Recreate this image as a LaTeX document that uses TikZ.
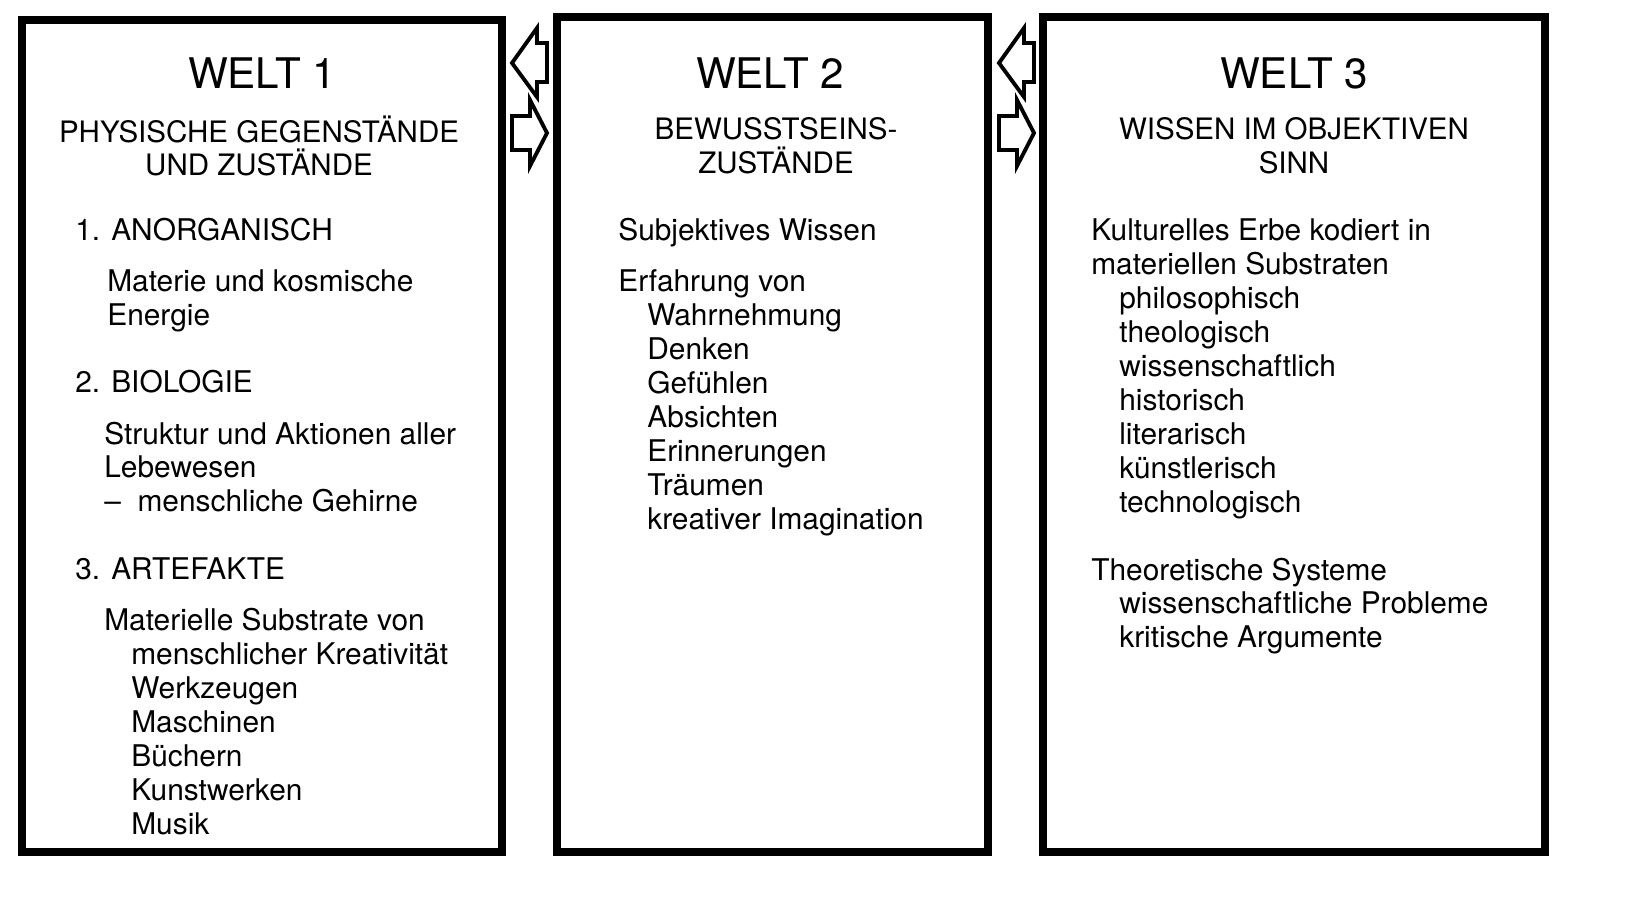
\documentclass[tikz,border=0pt]{standalone}
\usepackage{fontspec}
\setmainfont{TeX Gyre Heros}
\begin{document}
\begin{tikzpicture}[x=0.02cm,y=-0.02cm,
    welt/.style={line width=4.5pt},
    pfeil/.style={line width=2.2pt,line join=miter},
    titel/.style={font=\fontsize{24}{28}\selectfont},
    kopf/.style={font=\fontsize{16.8}{19.2}\selectfont,align=center},
    zeile/.style={anchor=base west,font=\fontsize{17}{19.2}\selectfont,inner sep=0pt,yshift=-9*0.02cm}]
        \useasboundingbox (0,0) rectangle (1633,903);
        % die drei Welten
        \draw[welt] (22,20) rectangle (502,852);
        \draw[welt] (557,17) rectangle (988,852);
        \draw[welt] (1043,17) rectangle (1545,852);
        % Pfeile zwischen den Welten
        \foreach \d in {0,487}{
        \begin{scope}[xshift=\d*0.02cm]
        \draw[pfeil] (512,63) -- (537,28) -- (537,43) -- (547,43) -- (547,82) -- (537,82) -- (537,97) -- cycle;
        \draw[pfeil] (547,133) -- (530,100) -- (530,116) -- (512,116) -- (512,150) -- (530,150) -- (530,166) -- cycle;
        \end{scope}
        }
        % Welt 1
        \node[titel] (t1) at (262,73) {WELT 1};
        \node[kopf] (k1) at (259,146) {PHYSISCHE GEGENSTÄNDE\\UND ZUSTÄNDE};
        \node[zeile] (a1) at (75,231) {1. ANORGANISCH};
        \node[zeile] (a2) at (107,282) {Materie und kosmische};
        \node[zeile] (a3) at (107,316) {Energie};
        \node[zeile] (b1) at (75,383) {2. BIOLOGIE};
        \node[zeile] (b2) at (104,435) {Struktur und Aktionen aller};
        \node[zeile] (b3) at (104,468) {Lebewesen};
        \node[zeile] (b4) at (104,502) {–\ \ menschliche Gehirne};
        \node[zeile] (c1) at (75,570) {3. ARTEFAKTE};
        \node[zeile] (c2) at (104,621) {Materielle Substrate von};
        \foreach \t [count=\i] in {menschlicher Kreativität,Werkzeugen,Maschinen,Büchern,Kunstwerken,Musik}
            \node[zeile] (c\i x) at (131,621+34*\i) {\t};
        % Welt 2
        \node[titel] (t2) at (770,73) {WELT 2};
        \node[kopf] (k2) at (776,146) {BEWUSSTSEINS-\\ZUSTÄNDE};
        \node[zeile] (d1) at (618,231) {Subjektives Wissen};
        \node[zeile] (d2) at (618,282) {Erfahrung von};
        \foreach \t [count=\i] in {Wahrnehmung,Denken,Gefühlen,Absichten,Erinnerungen,Träumen,kreativer Imagination}
            \node[zeile] (d\i x) at (647,282+34*\i) {\t};
        % Welt 3
        \node[titel] (t3) at (1294,73) {WELT 3};
        \node[kopf] (k3) at (1294,146) {WISSEN IM OBJEKTIVEN\\SINN};
        \node[zeile] (e1) at (1091,231) {Kulturelles Erbe kodiert in};
        \node[zeile] (e2) at (1091,265) {materiellen Substraten};
        \foreach \t [count=\i] in {philosophisch,theologisch,wissenschaftlich,historisch,literarisch,künstlerisch,technologisch}
            \node[zeile] (e\i x) at (1119,265+34*\i) {\t};
        \node[zeile] (f1) at (1091,571) {Theoretische Systeme};
        \node[zeile] (f2) at (1119,604) {wissenschaftliche Probleme};
        \node[zeile] (f3) at (1119,638) {kritische Argumente};
\end{tikzpicture}
\end{document}
